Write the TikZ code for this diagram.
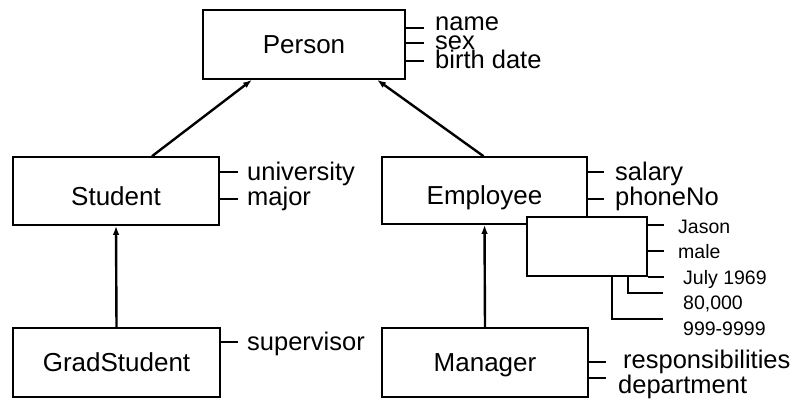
\documentclass[tikz,border=0pt]{standalone}
\usepackage{fontspec}
\setmainfont{Liberation Sans}
\usetikzlibrary{arrows.meta}
\begin{document}
\begin{tikzpicture}[x=1pt,y=-1pt,
 box/.style={draw,line width=1.6pt,inner sep=0pt,text height=18pt,text depth=0pt,font=\fontsize{26}{26}\selectfont},
 attr/.style={anchor=base west,inner sep=0pt,font=\fontsize{25.5}{25.5}\selectfont},
 val/.style={anchor=base west,inner sep=0pt,font=\fontsize{19.5}{19.5}\selectfont},
 tick/.style={line width=1.5pt},
 arr/.style={line width=2.4pt,-{Latex[length=9pt,width=6.5pt]}}]
\useasboundingbox (0,0) rectangle (795,401);
% classes
\node[box,minimum width=202pt,minimum height=69pt] (person) at (304,44.5) {Person};
\node[box,text height=28pt,minimum width=206pt,minimum height=68pt] (student) at (116,191) {Student};
\node[box,text height=28pt,minimum width=205pt,minimum height=67pt] (employee) at (484.5,190.5) {Employee};
\node[box,minimum width=207pt,minimum height=69pt] (grad) at (116.5,362.5) {GradStudent};
\node[box,minimum width=206pt,minimum height=69pt] (manager) at (485,362.5) {Manager};
\node[box,fill=white,minimum width=120pt,minimum height=59pt] (inst) at (587,246.5) {};
% inheritance arrows
\draw[arr] ([xshift=36pt]student.north) -- ([xshift=-52pt]person.south);
\draw[arr] ([xshift=-1pt]employee.north) -- ([xshift=73pt]person.south);
\draw[arr] (grad.north) -- (student.south);
\draw[arr] (manager.north) -- (employee.south);
% Person attributes
\draw[tick] (person.east |- 0,28) -- ++(18,0);
\draw[tick] (person.east |- 0,43) -- ++(18,0);
\draw[tick] (person.east |- 0,61) -- ++(18,0);
\node[attr] (pname) at (435,31) {name};
\node[attr] (psex) at (435,49.5) {sex};
\node[attr] (pbirth) at (435,68.5) {birth date};
% Student attributes
\draw[tick] (student.east |- 0,172) -- ++(18,0);
\draw[tick] (student.east |- 0,199) -- ++(18,0);
\node[attr] (suni) at (247,180) {university};
\node[attr] (smaj) at (247,205) {major};
% Employee attributes
\draw[tick] (employee.east |- 0,172) -- ++(16,0);
\draw[tick] (employee.east |- 0,199) -- ++(16,0);
\node[attr] (esal) at (615,180) {salary};
\node[attr] (ephone) at (615,205) {phoneNo};
% GradStudent attributes
\draw[tick] (grad.east |- 0,342) -- ++(17,0);
\node[attr] (gsup) at (247,350) {supervisor};
% Manager attributes
\draw[tick] (manager.east |- 0,362) -- ++(17,0);
\draw[tick] (manager.east |- 0,378) -- ++(17,0);
\node[attr] (mresp) at (623,368) {responsibilities};
\node[attr] (mdep) at (618,393) {department};
% instance values
\draw[tick] (inst.east |- 0,225) -- ++(16,0);
\draw[tick] (inst.east |- 0,251) -- ++(16,0);
\draw[tick] (inst.south east) -- ++(16,0);
\draw[tick] (inst.south -| 628,0) -- (628,293) -- (663,293);
\draw[tick] (inst.south -| 612,0) -- (612,319) -- (663,319);
\node[val] (vjason) at (678,233) {Jason};
\node[val] (vmale) at (678,258) {male};
\node[val] (vjuly) at (683,284) {July 1969};
\node[val] (vsal) at (683,309) {80,000};
\node[val] (vphone) at (683,335) {999-9999};
\end{tikzpicture}
\end{document}
